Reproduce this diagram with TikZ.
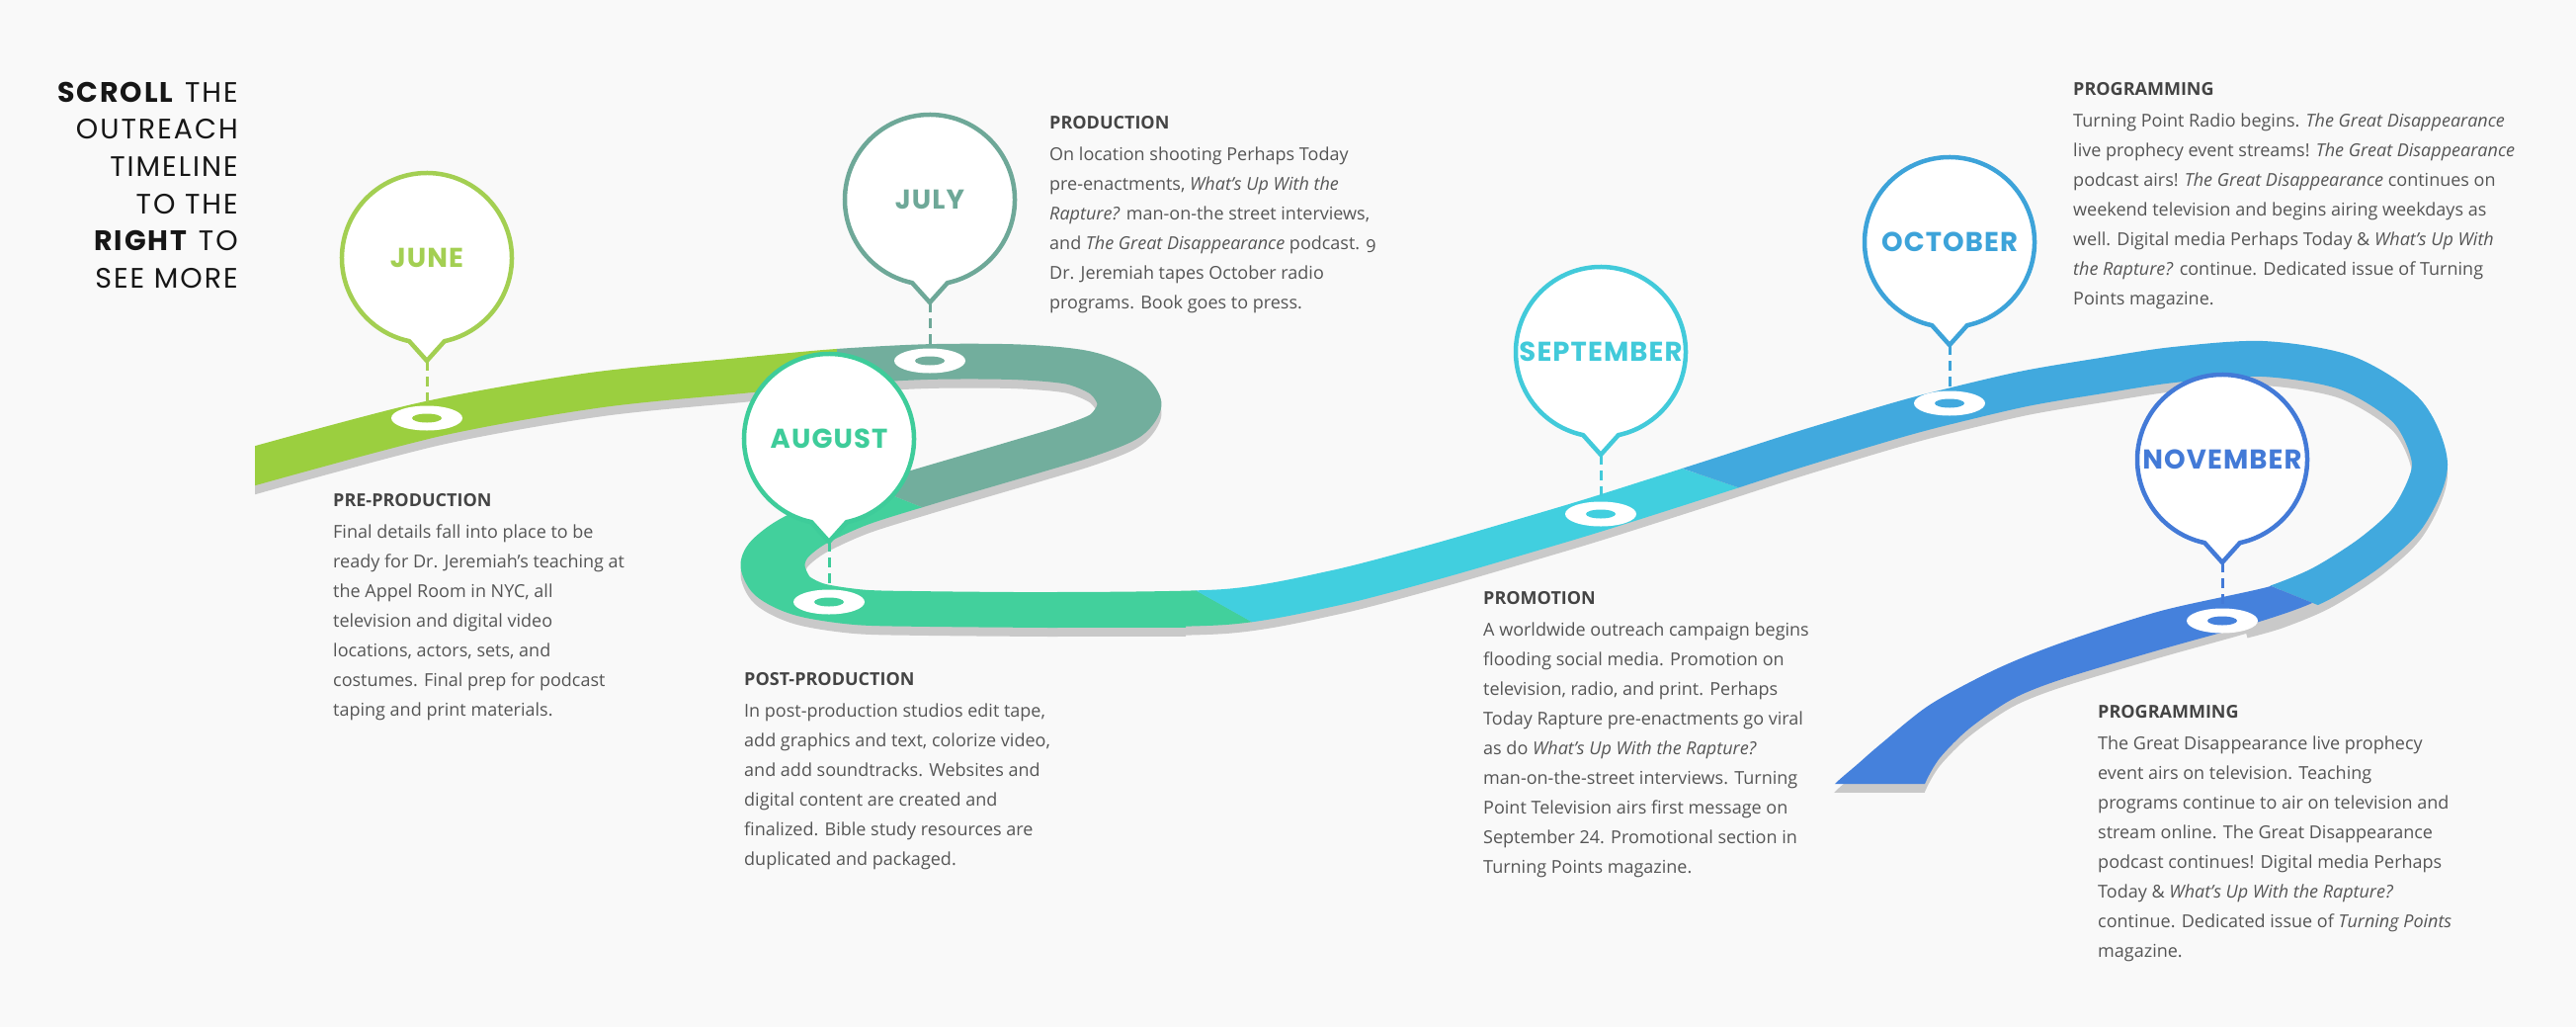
\documentclass[tikz,border=0pt]{standalone}
\usepackage{fontspec}
\setmainfont{Open Sans}
\newfontfamily\dispfont{Poppins}[LetterSpace=4]
\newfontfamily\titlefont{Poppins}[LetterSpace=7]
\usetikzlibrary{calc}
\definecolor{bgc}{HTML}{F9F9F9}
\definecolor{shadowc}{HTML}{C9C9C9}
\definecolor{gA}{HTML}{9BCF3F}
\definecolor{gAb}{HTML}{A3CF52}
\definecolor{tB}{HTML}{72AE9D}
\definecolor{tBb}{HTML}{6EA898}
\definecolor{gC}{HTML}{42D09C}
\definecolor{gCb}{HTML}{3ECC9A}
\definecolor{cD}{HTML}{41CFDF}
\definecolor{cDb}{HTML}{42CADA}
\definecolor{bE}{HTML}{41A9DE}
\definecolor{bEb}{HTML}{3DA3D9}
\definecolor{dF}{HTML}{4581DC}
\definecolor{dFb}{HTML}{437AD7}
\definecolor{bodyc}{HTML}{555555}
\definecolor{headc}{HTML}{444444}
\definecolor{titlec}{HTML}{161616}

\def\roadLpath{plot[smooth, tension=0.5] coordinates {(230,870.9) (432,772.7) (600,718.2) (750,690.9) (847,674.5) (941,665.5) (1030,666) (1091.5,676.4) (1129.2,704.8) (1143,743.6) (1129.2,782.4) (1091.5,810.8) (1033,843) (930,898) (860,938) (812,978) (788,1012) (782,1042) (792,1078) (820,1103) (870,1117) (933,1120) (1050,1121.8) (1200,1121.8)}}
\def\roadRpath{plot[smooth, tension=0.5] coordinates {(1060,617) (1240,614) (1350,595) (1450,569) (1550,540) (1620,519) (1730,484) (1820,455) (1920,425) (1973,411) (2050,393) (2127,380) (2200,369) (2290,363) (2374,377) (2436,416) (2459,470) (2438,522) (2400,558) (2350,590) (2305,609) (2270,619)}}
\def\darkpath{plot[smooth, tension=0.5] coordinates {(2340,575) (2298,593) (2187,618) (2087,650) (2020,677) (1953,713) (1903,753) (1880,773) (1857,793) (1850,805)} -- plot[smooth, tension=0.5] coordinates {(1947,805) (1948,793) (1963,767) (1993,737) (2037,707) (2087,687) (2187,657) (2283,630) (2340,610) (2390,582)} -- cycle}

\newcommand{\mkballoon}[3]{% name, colour, label
  \draw[balloonline, draw=#2] ($(#1)+(102:86)$) arc[start angle=102, end angle=438, radius=86] -- ($(#1)+(0,104)$) -- cycle;
  \node[monthlabel, text=#2] (#1label) at (#1) {#3};
}
\newcommand{\mkring}[2]{% name, colour
  \fill[white] (#1) ellipse[x radius=36, y radius=12.5];
  \fill[#2] (#1) ellipse[x radius=15, y radius=4.5];
}
\newcommand{\hd}[1]{\strut{\bfseries\color{headc}#1}\\[2pt]}

\begin{document}
\begin{tikzpicture}[x=1pt,y=-1pt,
  balloonline/.style={line width=4.5pt, fill=white, line join=miter},
  monthlabel/.style={inner sep=0pt, font=\dispfont\bfseries\fontsize{27.5}{30}\selectfont},
  dashline/.style={line width=3pt, dash pattern=on 10pt off 6pt},
  textblock/.style={anchor=north west, inner sep=0pt, align=left, text=bodyc, font=\fontsize{18}{30}\selectfont},
  roadL/.style={line width=65pt, line join=round},
  roadR/.style={line width=36pt, line join=round}]
\useasboundingbox (0,0) rectangle (2607,1039);
\fill[bgc] (0,0) rectangle (2607,1039);

% ---------- shadow ----------
\begin{scope}
  \clip (258,0) rectangle (2607,801);
  \begin{scope}[transform canvas={yscale=0.55}]
    \draw[roadL, shadowc, shift={(0,16.4)}] \roadLpath;
  \end{scope}
  \draw[roadR, shadowc, shift={(0,9)}] \roadRpath;
  \fill[shadowc, shift={(0,8)}] \darkpath;
\end{scope}

% ---------- June green ----------
\begin{scope}
  \clip (258,0) -- (847,0) -- (847,450) -- (740,450) -- (740,1039) -- (258,1039) -- cycle;
  \begin{scope}[transform canvas={yscale=0.55}]
    \draw[roadL, gA] \roadLpath;
  \end{scope}
\end{scope}
% ---------- July teal ----------
\begin{scope}
  \clip (847,0) -- (1250,0) -- (1250,560) -- (1050,560) -- (775,450) -- (847,450) -- cycle;
  \begin{scope}[transform canvas={yscale=0.55}]
    \draw[roadL, tB] \roadLpath;
  \end{scope}
\end{scope}
% ---------- August green ----------
\begin{scope}
  \clip (740,450) -- (775,450) -- (1075,570) -- (1162,570) -- (1393,700) -- (740,700) -- cycle;
  \begin{scope}[transform canvas={yscale=0.55}]
    \draw[roadL, gC] \roadLpath;
  \end{scope}
  \draw[roadR, gC] \roadRpath;
\end{scope}
% ---------- September cyan ----------
\begin{scope}
  \clip (1108,540) -- (1484,400) -- (1800,507) -- (1800,700) -- (1393,700) -- cycle;
  \draw[roadR, cD] \roadRpath;
\end{scope}
% ---------- October blue ----------
\begin{scope}
  \clip (1420,378) -- (1420,0) -- (2607,0) -- (2607,718) -- (2200,553) -- (1800,507) -- cycle;
  \draw[roadR, bE] \roadRpath;
\end{scope}
% ---------- November dark blue ----------
\begin{scope}
  \clip (1700,560) -- (2200,553) -- (2607,718) -- (2607,793) -- (1700,793) -- cycle;
  \fill[dF] \darkpath;
\end{scope}

% ---------- markers ----------
\coordinate (jun) at (432,261);   \coordinate (junring) at (432,423);
\coordinate (jul) at (941,202);   \coordinate (julring) at (941,365);
\coordinate (aug) at (839,444);   \coordinate (augring) at (839,609);
\coordinate (sep) at (1620,356);  \coordinate (sepring) at (1620,520);
\coordinate (oct) at (1973,245);  \coordinate (octring) at (1973,408);
\coordinate (nov) at (2249,465);  \coordinate (novring) at (2249,628);

\draw[dashline, gAb] ($(jun)+(0,104)$) -- (junring);
\draw[dashline, tBb] ($(jul)+(0,104)$) -- (julring);
\draw[dashline, gCb] ($(aug)+(0,104)$) -- (augring);
\draw[dashline, cDb] ($(sep)+(0,104)$) -- (sepring);
\draw[dashline, bEb] ($(oct)+(0,104)$) -- (octring);
\draw[dashline, dFb] ($(nov)+(0,104)$) -- (novring);

\mkring{junring}{gA}
\mkring{julring}{tB}
\mkring{augring}{gC}
\mkring{sepring}{cD}
\mkring{octring}{bE}
\mkring{novring}{dF}

\mkballoon{jun}{gAb}{JUNE}
\mkballoon{jul}{tBb}{JULY}
\mkballoon{aug}{gCb}{AUGUST}
\mkballoon{sep}{cDb}{SEPTEMBER}
\mkballoon{oct}{bEb}{OCTOBER}
\mkballoon{nov}{dFb}{NOVEMBER}

% ---------- title ----------
\node[anchor=north east, inner sep=0pt, align=right, text=titlec,
      font=\titlefont\fontsize{28.5}{37.7}\selectfont] (title) at (241,76.5)
  {\strut\textbf{SCROLL} THE\\ OUTREACH\\ TIMELINE\\ TO THE\\ \textbf{RIGHT} TO\\ SEE MORE};

% ---------- text blocks ----------
\node[textblock] (preprod) at (337,491.5) {\hd{PRE-PRODUCTION}
Final details fall into place to be\\
ready for Dr. Jeremiah’s teaching at\\
the Appel Room in NYC, all\\
television and digital video\\
locations, actors, sets, and\\
costumes. Final prep for podcast\\
taping and print materials.};

\node[textblock] (postprod) at (753,672.5) {\hd{POST-PRODUCTION}
In post-production studios edit tape,\\
add graphics and text, colorize video,\\
and add soundtracks. Websites and\\
digital content are created and\\
finalized. Bible study resources are\\
duplicated and packaged.};

\node[textblock] (prod) at (1062,109.5) {\hd{PRODUCTION}
On location shooting Perhaps Today\\
pre-enactments, \textit{What’s Up With the}\\
\textit{Rapture?} man-on-the street interviews,\\
and \textit{The Great Disappearance} podcast. {\addfontfeature{Numbers=OldStyle}9}\\
Dr. Jeremiah tapes October radio\\
programs. Book goes to press.};

\node[textblock] (promo) at (1501,590.5) {\hd{PROMOTION}
A worldwide outreach campaign begins\\
flooding social media. Promotion on\\
television, radio, and print. Perhaps\\
Today Rapture pre-enactments go viral\\
as do \textit{What’s Up With the Rapture?}\\
man-on-the-street interviews. Turning\\
Point Television airs first message on\\
September 24. Promotional section in\\
Turning Points magazine.};

\node[textblock] (progA) at (2098,75.5) {\hd{PROGRAMMING}
Turning Point Radio begins. \textit{The Great Disappearance}\\
live prophecy event streams! \textit{The Great Disappearance}\\
podcast airs! \textit{The Great Disappearance} continues on\\
weekend television and begins airing weekdays as\\
well. Digital media Perhaps Today \& \textit{What’s Up With}\\
\textit{the Rapture?} continue. Dedicated issue of Turning\\
Points magazine.};

\node[textblock] (progB) at (2123,705.5) {\hd{PROGRAMMING}
The Great Disappearance live prophecy\\
event airs on television. Teaching\\
programs continue to air on television and\\
stream online. The Great Disappearance\\
podcast continues! Digital media Perhaps\\
Today \& \textit{What’s Up With the Rapture?}\\
continue. Dedicated issue of \textit{Turning Points}\\
magazine.};
\end{tikzpicture}
\end{document}
